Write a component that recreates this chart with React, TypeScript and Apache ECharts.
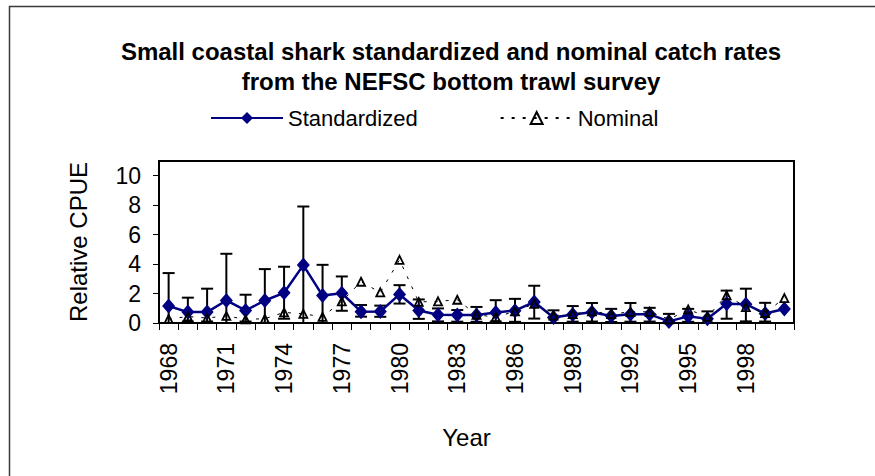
import React, { useEffect, useRef } from "react";
import * as echarts from "echarts";

const years = [
  "1968", "1969", "1970", "1971", "1972", "1973", "1974", "1975", "1976", "1977",
  "1978", "1979", "1980", "1981", "1982", "1983", "1984", "1985", "1986", "1987",
  "1988", "1989", "1990", "1991", "1992", "1993", "1994", "1995", "1996", "1997",
  "1998", "1999", "2000",
];

const standardized = [
  1.15, 0.74, 0.74, 1.53, 0.85, 1.53, 2.05, 3.93, 1.86, 2.02,
  0.77, 0.78, 1.94, 0.85, 0.56, 0.54, 0.54, 0.72, 0.84, 1.43,
  0.38, 0.58, 0.73, 0.48, 0.59, 0.59, 0.11, 0.45, 0.29, 1.3,
  1.28, 0.64, 0.95,
];

const upperCI = [
  3.39, 1.72, 2.33, 4.7, 1.92, 3.66, 3.82, 7.91, 3.95, 3.16,
  1.22, 1.18, 2.57, 1.6, 0.99, 0.88, 1.09, 1.55, 1.64, 2.53,
  0.86, 1.15, 1.36, 0.96, 1.36, 1.03, 0.62, 0.96, 0.79, 2.2,
  2.33, 1.37, null,
];

const lowerCI = [
  0, 0.1, 0.1, 0, 0.1, 0, 0.29, 0, 0, 0.83,
  0.43, 0.42, 1.32, 0.28, 0.11, 0.09, 0.08, 0.1, 0.08, 0.3,
  0, 0.09, 0.1, 0.07, 0.09, 0.1, 0, 0.08, 0, 0.29,
  0.11, 0.1, null,
];

const nominal = [
  0.27, 0.44, 0.34, 0.48, 0.25, 0.29, 0.72, 0.62, 0.42, 1.47,
  2.8, 2.08, 4.29, 1.43, 1.47, 1.58, 0.56, 0.4, 0.79, 1.3,
  0.5, 0.6, 0.79, 0.6, 0.76, 0.76, 0.25, 0.92, 0.42, 1.88,
  1.08, 0.68, 1.69,
];

const titleLines = [
  "Small coastal shark standardized and nominal catch rates",
  "from the NEFSC bottom trawl survey",
];

const FONT = "'Liberation Sans', Arial, Helvetica, sans-serif";

export default function App() {
  const ref = useRef<HTMLDivElement>(null);

  useEffect(() => {
    if (!ref.current) return;
    const chart = echarts.init(ref.current, null, { renderer: "svg" });

    const errData = years
      .map((_, i) => [i, lowerCI[i], upperCI[i]])
      .filter((d) => d[1] != null && d[2] != null);

    const option: any = {
      animation: false,
      backgroundColor: "#ffffff",
      textStyle: { fontFamily: FONT },
      title: {
        text: titleLines.join("\n"),
        left: 446,
        textAlign: "center",
        top: 31,
        textStyle: {
          fontFamily: FONT,
          fontSize: 24,
          fontWeight: "bold",
          color: "#000",
          lineHeight: 30,
        },
      },
      legend: {
        data: ["Standardized", "Nominal"],
        left: 210,
        top: 107,
        padding: 0,
        itemWidth: 72,
        itemHeight: 15,
        itemGap: 82,
        textStyle: { fontFamily: FONT, fontSize: 22, color: "#000" },
      },
      graphic: [
        {
          type: "polyline",
          shape: { points: [[9.5, 476], [9.5, 6.5], [875, 6.5]] },
          style: { stroke: "#3a3a3a", lineWidth: 1.5, fill: null },
        },
      ],
      grid: {
        left: 159,
        right: 81,
        top: 161,
        bottom: 153,
        show: true,
        borderColor: "#000",
        borderWidth: 2,
        backgroundColor: "transparent",
      },
      xAxis: {
        type: "category",
        data: years,
        boundaryGap: true,
        name: "Year",
        nameLocation: "middle",
        nameGap: 102,
        nameTextStyle: { fontFamily: FONT, fontSize: 24, color: "#000", padding: [0, 20, 0, 0] },
        axisLine: { lineStyle: { color: "#000", width: 2 } },
        axisTick: { show: true, interval: 0, length: 7, lineStyle: { color: "#000", width: 1 } },
        axisLabel: {
          interval: 2,
          rotate: 90,
          margin: 20,
          fontFamily: FONT,
          fontSize: 23,
          color: "#000",
        },
        splitLine: { show: false },
      },
      yAxis: {
        type: "value",
        min: 0,
        max: 11,
        interval: 2,
        name: "Relative CPUE",
        nameLocation: "middle",
        nameGap: 69,
        nameTextStyle: { fontFamily: FONT, fontSize: 24, color: "#000" },
        axisLine: { show: true, lineStyle: { color: "#000", width: 2 } },
        axisTick: { show: true, length: 6, lineStyle: { color: "#000", width: 1 } },
        axisLabel: {
          showMaxLabel: false,
          margin: 18,
          fontFamily: FONT,
          fontSize: 23,
          color: "#000",
          formatter: (v: number) => (v > 10 ? "" : String(v)),
        },
        splitLine: { show: false },
      },
      series: [
        {
          name: "Error",
          type: "custom",
          data: errData,
          z: 2,
          silent: true,
          renderItem: (params: any, api: any) => {
            const idx = api.value(0);
            const lo = api.coord([idx, api.value(1)]);
            const hi = api.coord([idx, api.value(2)]);
            const hw = 6;
            const style = { stroke: "#000", lineWidth: 2, fill: null };
            return {
              type: "group",
              children: [
                { type: "line", shape: { x1: hi[0], y1: hi[1], x2: lo[0], y2: lo[1] }, style },
                { type: "line", shape: { x1: hi[0] - hw, y1: hi[1], x2: hi[0] + hw, y2: hi[1] }, style },
                { type: "line", shape: { x1: lo[0] - hw, y1: lo[1], x2: lo[0] + hw, y2: lo[1] }, style },
              ],
            };
          },
        },
        {
          name: "Standardized",
          type: "line",
          data: standardized,
          z: 3,
          showAllSymbol: true,
          symbol: "diamond",
          symbolSize: [13, 15],
          lineStyle: { color: "#000080", width: 2.5 },
          itemStyle: { color: "#000080", borderColor: "#000080", borderWidth: 0 },
        },
        {
          name: "Nominal",
          type: "line",
          data: nominal,
          z: 4,
          showAllSymbol: true,
          symbol: "triangle",
          symbolSize: [8, 8],
          lineStyle: { color: "#000", width: 1, type: [3, 8] },
          itemStyle: { color: "rgba(255,255,255,0)", borderColor: "#000", borderWidth: 1.8 },
        },
      ],
    };

    chart.setOption(option);
    return () => chart.dispose();
  }, []);

  return (
    <div
      ref={ref}
      style={{ position: "fixed", left: 0, top: 0, width: 875, height: 476 }}
    />
  );
}
